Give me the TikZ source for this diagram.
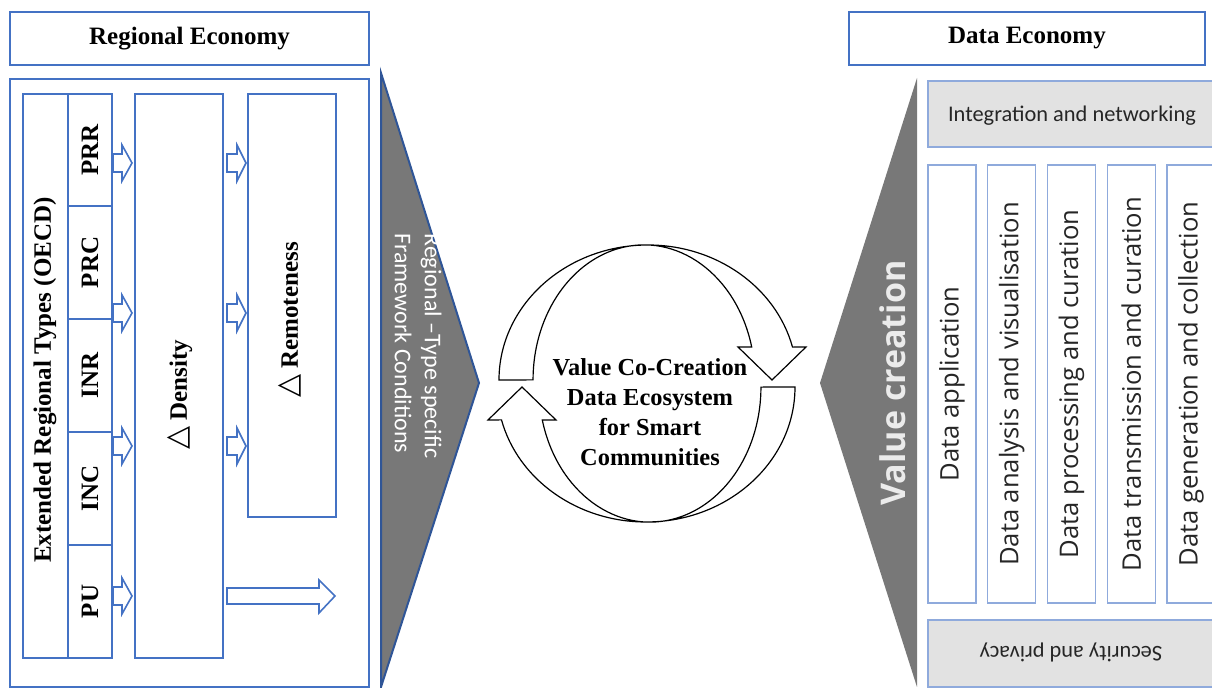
\documentclass[tikz,border=0pt]{standalone}
\usepackage{fontspec}
\setmainfont{Liberation Serif}
\newfontfamily\calfont{Carlito}
\newfontfamily\opfont{Open Sans}
\newfontfamily\symfont{DejaVu Sans}
\usetikzlibrary{fit}

\definecolor{regblue}{HTML}{4472C4}
\definecolor{darkblue}{HTML}{2F5597}
\definecolor{paleblue}{HTML}{8FAADC}
\definecolor{trigray}{HTML}{787878}
\definecolor{boxgray}{HTML}{E2E2E2}

\begin{document}
\begin{tikzpicture}[x=0.5pt,y=-0.5pt,
    regbox/.style={draw=regblue,line width=0.9pt,inner sep=0pt},
    colbox/.style={draw=paleblue,line width=0.7pt,fill=white,inner sep=0pt},
    graybox/.style={draw=paleblue,line width=0.7pt,fill=boxgray,inner sep=0pt},
    serif/.style={font=\bfseries\fontsize{12.5}{15}\selectfont},
    datatext/.style={font=\opfont\fontsize{12.8}{15}\selectfont,text=black!85},
    graytext/.style={font=\calfont\fontsize{11.2}{13}\selectfont,text=black!85},
    hollow/.style={draw=regblue,line width=0.8pt,fill=white},
    cyclearr/.style={draw=black,line width=0.6pt,fill=white}]
    \useasboundingbox (0,0) rectangle (1212,688);
    \clip (0,0) rectangle (1212,688);

    % regional economy side
    \node[regbox,fit={(10,12) (369,65)}] (regeco) {};
    \node[serif] at (regeco.center) {Regional Economy};
    \node[regbox,fit={(10,79) (369,687)}] (regmain) {};
    \node[regbox,fit={(23,94) (68,658)}] (types) {};
    \node[serif,rotate=90] (typeslbl) at (45,380) {Extended Regional Types (OECD)};
    \foreach \name/\top/\bot in {PRR/94/206,PRC/206/319,INR/319/432,INC/432/545,PU/545/658} {
        \node[regbox,fit={(68,\top) (112,\bot)}] (\name) {};
        \node[serif,rotate=90] at (\name.center) {\name};
    }
    \node[regbox,fit={(135,94) (223,658)}] (density) {};
    \node[serif,rotate=90] (densitylbl) at (180,395) {{\symfont\fontsize{15}{15}\selectfont △} Density};
    \node[regbox,fit={(248,94) (336,517)}] (remote) {};
    \node[serif,rotate=90] (remotelbl) at (290,320) {{\symfont\fontsize{15}{15}\selectfont △} Remoteness};

    % hollow arrows
    \foreach \y in {163,313,446,596}
        \draw[hollow] (113,\y-9) -- (122,\y-9) -- (122,\y-18) -- (132,\y)
            -- (122,\y+18) -- (122,\y+9) -- (113,\y+9) -- cycle;
    \foreach \y in {163,313,446}
        \draw[hollow] (227,\y-9) -- (237,\y-9) -- (237,\y-18) -- (246,\y)
            -- (237,\y+18) -- (237,\y+9) -- (227,\y+9) -- cycle;
    \draw[hollow] (227,588) -- (319,588) -- (319,580) -- (335,596)
        -- (319,613) -- (319,604) -- (227,604) -- cycle;

    % framework conditions
    \draw[darkblue,line width=1pt,fill=trigray] (381,73) -- (479,383) -- (381,687) -- cycle;
    \node[rotate=-90,anchor=west,inner sep=0pt,align=left,text=white,
        font=\calfont\fontsize{12}{15}\selectfont] (frame) at (418,233)
        {Regional –Type specific\\Framework Conditions};

    % value co-creation cycle
    \draw[cyclearr] (499,380) arc[start angle=180,end angle=345.9,x radius=149,y radius=135]
        -- (806,347) -- (772,380) -- (738,347) -- (751.7,347)
        arc[start angle=345.9,end angle=180,x radius=111,y radius=135] -- cycle;
    \draw[cyclearr,rotate around={180:(647,383.5)}] (499,380)
        arc[start angle=180,end angle=345.9,x radius=149,y radius=135]
        -- (806,347) -- (772,380) -- (738,347) -- (751.7,347)
        arc[start angle=345.9,end angle=180,x radius=111,y radius=135] -- cycle;
    \node[align=center,font=\bfseries\fontsize{12.2}{15}\selectfont] (vcc) at (650,412)
        {Value Co-Creation\\Data Ecosystem\\for Smart\\Communities};

    % data economy side
    \node[regbox,fit={(849,12) (1205,65)}] (dataeco) {};
    \node[serif] at (dataeco.center) {Data Economy};
    \fill[trigray] (917,78) -- (820,383) -- (917,687) -- cycle;
    \node[rotate=90,text=white!92!black,font=\opfont\bfseries\fontsize{17}{20}\selectfont]
        (valcre) at (893,383) {Value creation};
    \node[graybox,fit={(928,81) (1216,147)}] (integ) {};
    \node[graytext] at (1072,116) {Integration and networking};
    \foreach \i/\txt in {0/Data application,1/Data analysis and visualisation,
        2/Data processing and curation,3/Data transmission and curation,
        4/Data generation and collection} {
        \node[colbox,fit={(928+59.75*\i,165) (976+59.75*\i,603)}] (col\i) {};
        \node[datatext,rotate=90] at (col\i.center) {\txt};
    }
    \node[graybox,fit={(928,620) (1216,687)}] (secur) {};
    \node[graytext,rotate=180] at (1071,652) {Security and privacy};
\end{tikzpicture}
\end{document}
